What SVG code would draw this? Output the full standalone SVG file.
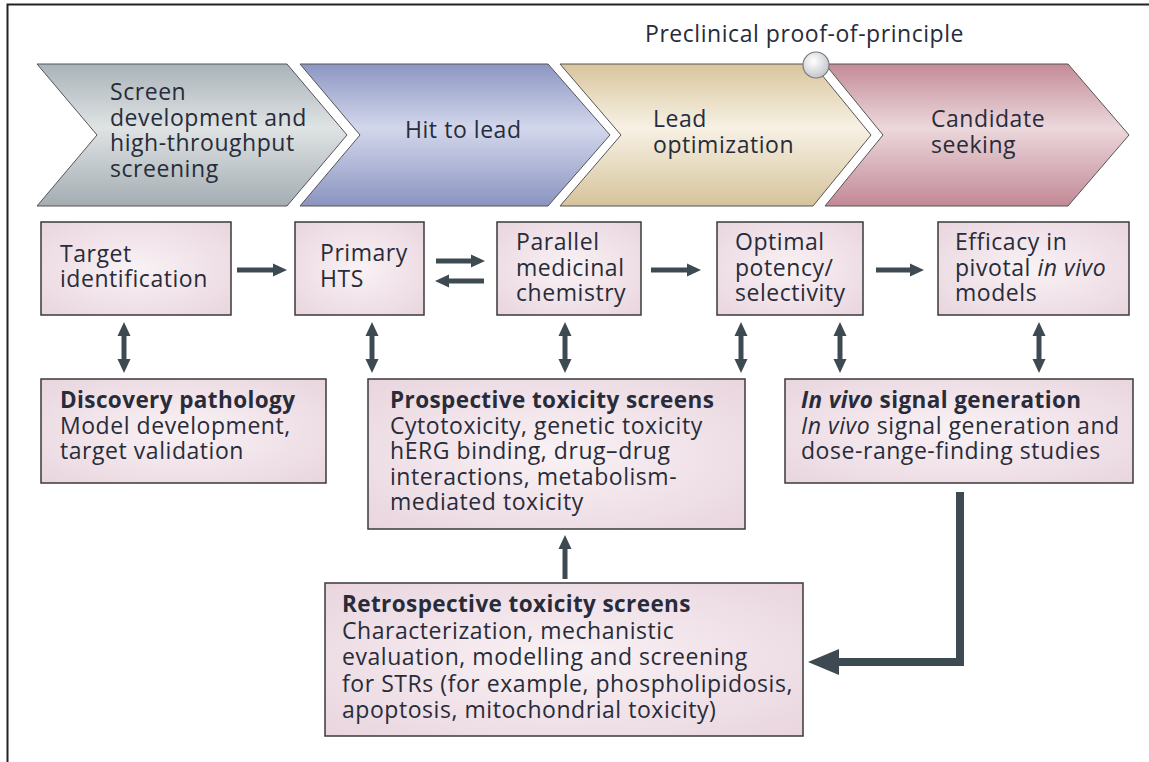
<svg xmlns="http://www.w3.org/2000/svg" width="1149" height="762" viewBox="0 0 1149 762">
<defs>
  <linearGradient id="g1" x1="0" y1="0" x2="0" y2="1">
    <stop offset="0" stop-color="#a9b3b9"/><stop offset="0.45" stop-color="#dfe3e4"/><stop offset="1" stop-color="#a3adb2"/>
  </linearGradient>
  <linearGradient id="g2" x1="0" y1="0" x2="0" y2="1">
    <stop offset="0" stop-color="#8c96c3"/><stop offset="0.45" stop-color="#d3d7ec"/><stop offset="1" stop-color="#8a94c0"/>
  </linearGradient>
  <linearGradient id="g3" x1="0" y1="0" x2="0" y2="1">
    <stop offset="0" stop-color="#d8c59d"/><stop offset="0.45" stop-color="#f7f1e4"/><stop offset="1" stop-color="#d6c39b"/>
  </linearGradient>
  <linearGradient id="g4" x1="0" y1="0" x2="0" y2="1">
    <stop offset="0" stop-color="#c38b97"/><stop offset="0.45" stop-color="#ecd8dc"/><stop offset="1" stop-color="#c28996"/>
  </linearGradient>
  <radialGradient id="boxg" cx="0.5" cy="0.5" r="0.7">
    <stop offset="0" stop-color="#f9f2f5"/><stop offset="1" stop-color="#e9d5de"/>
  </radialGradient>
  <radialGradient id="circg" cx="0.4" cy="0.35" r="0.7">
    <stop offset="0" stop-color="#ffffff"/><stop offset="1" stop-color="#bfc4c9"/>
  </radialGradient>
  <marker id="ah" viewBox="0 0 14 14" refX="3" refY="7" markerWidth="14" markerHeight="14" markerUnits="userSpaceOnUse" orient="auto-start-reverse">
    <path d="M0,0.5 L14,7 L0,13.5 z" fill="#3e4a52"/>
  </marker>
  <marker id="ahBig" viewBox="0 0 31 26" refX="1" refY="13" markerWidth="31" markerHeight="26" markerUnits="userSpaceOnUse" orient="auto">
    <path d="M0,0 L31,13 L0,26 z" fill="#3e4a52"/>
  </marker>
</defs>
<style>
  .t{font-family:"Open Sans","Noto Sans","DejaVu Sans",sans-serif;font-size:23px;letter-spacing:0.55px;fill:#282c3a}
  .b{font-weight:bold;font-size:22.5px;letter-spacing:0.4px}
  .i{font-style:italic}
  .box{fill:url(#boxg);stroke:#3a3a3a;stroke-width:1.5}
  .chev{stroke:#555;stroke-width:1}
  .ar{stroke:#3e4a52;stroke-width:5;fill:none}
</style>
<rect width="1149" height="762" fill="#ffffff"/>
<path d="M7.5,762 V4.5 H1149" fill="none" stroke="#222" stroke-width="2"/>

<g id="stage-screen">
  <polygon class="chev" points="37,64 287,64 347,135 287,206 37,206 97,135" fill="url(#g1)"/>
  <text class="t" x="110" y="100">Screen</text>
  <text class="t" x="110" y="125.7">development and</text>
  <text class="t" x="110" y="151.4">high-throughput</text>
  <text class="t" x="110" y="177">screening</text>
</g>
<g id="stage-hit">
  <polygon class="chev" points="300,64 548,64 610,135 548,206 300,206 360,135" fill="url(#g2)"/>
  <text class="t" x="405" y="138">Hit to lead</text>
</g>
<g id="stage-lead">
  <polygon class="chev" points="560,64 813,64 871,135 813,206 560,206 621,135" fill="url(#g3)"/>
  <text class="t" x="653" y="127">Lead</text>
  <text class="t" x="653" y="153">optimization</text>
</g>
<g id="stage-candidate">
  <polygon class="chev" points="825,64 1068,64 1129,135 1068,206 825,206 883,135" fill="url(#g4)"/>
  <text class="t" x="931" y="127">Candidate</text>
  <text class="t" x="931" y="153">seeking</text>
</g>
<g id="milestone">
  <circle cx="816" cy="65" r="13" fill="url(#circg)" stroke="#7a7a7a" stroke-width="1.2"/>
  <text class="t" x="645" y="42">Preclinical proof-of-principle</text>
</g>

<g id="target">
  <rect class="box" x="41" y="222" width="190" height="93"/>
  <text class="t" x="60" y="261.5">Target</text>
  <text class="t" x="60" y="287">identification</text>
</g>
<g id="primary">
  <rect class="box" x="295" y="222" width="129" height="93"/>
  <text class="t" x="320" y="261">Primary</text>
  <text class="t" x="320" y="286.5">HTS</text>
</g>
<g id="parallel">
  <rect class="box" x="497" y="222" width="144" height="93"/>
  <text class="t" x="516" y="250">Parallel</text>
  <text class="t" x="516" y="275.5">medicinal</text>
  <text class="t" x="516" y="301">chemistry</text>
</g>
<g id="optimal">
  <rect class="box" x="717" y="222" width="146" height="93"/>
  <text class="t" x="735" y="250">Optimal</text>
  <text class="t" x="735" y="275.5">potency/</text>
  <text class="t" x="735" y="301">selectivity</text>
</g>
<g id="efficacy">
  <rect class="box" x="938" y="222" width="191" height="93"/>
  <text class="t" x="955" y="250">Efficacy in</text>
  <text class="t" x="955" y="275.5">pivotal <tspan class="i">in vivo</tspan></text>
  <text class="t" x="955" y="301">models</text>
</g>
<g id="discovery">
  <rect class="box" x="41" y="379" width="285" height="104"/>
  <text class="t b" x="60" y="408">Discovery pathology</text>
  <text class="t" x="60" y="434">Model development,</text>
  <text class="t" x="60" y="459">target validation</text>
</g>
<g id="prospective">
  <rect class="box" x="368" y="379" width="377" height="150"/>
  <text class="t b" x="390" y="408">Prospective toxicity screens</text>
  <text class="t" x="390" y="433.5">Cytotoxicity, genetic toxicity</text>
  <text class="t" x="390" y="459">hERG binding, drug–drug</text>
  <text class="t" x="390" y="484.5">interactions, metabolism-</text>
  <text class="t" x="390" y="510">mediated toxicity</text>
</g>
<g id="invivo">
  <rect class="box" x="785" y="379" width="348" height="104"/>
  <text class="t b" x="801" y="408"><tspan class="i">In vivo</tspan> signal generation</text>
  <text class="t" x="801" y="434"><tspan class="i">In vivo</tspan> signal generation and</text>
  <text class="t" x="801" y="459">dose-range-finding studies</text>
</g>
<g id="retrospective">
  <rect class="box" x="325" y="583" width="478" height="153"/>
  <text class="t b" x="342" y="612">Retrospective toxicity screens</text>
  <text class="t" x="342" y="638.5">Characterization, mechanistic</text>
  <text class="t" x="342" y="665">evaluation, modelling and screening</text>
  <text class="t" x="342" y="691.5">for STRs (for example, phospholipidosis,</text>
  <text class="t" x="342" y="718">apoptosis, mitochondrial toxicity)</text>
</g>

<g id="connectors">
  <line class="ar" x1="237" y1="270" x2="276" y2="270" marker-end="url(#ah)"/>
  <line class="ar" x1="436" y1="261" x2="474" y2="261" marker-end="url(#ah)"/>
  <line class="ar" x1="484" y1="281" x2="446" y2="281" marker-end="url(#ah)"/>
  <line class="ar" x1="651" y1="270" x2="690" y2="270" marker-end="url(#ah)"/>
  <line class="ar" x1="876" y1="270" x2="913" y2="270" marker-end="url(#ah)"/>
  <line class="ar" x1="124" y1="333" x2="124" y2="362" marker-start="url(#ah)" marker-end="url(#ah)"/>
  <line class="ar" x1="372" y1="333" x2="372" y2="362" marker-start="url(#ah)" marker-end="url(#ah)"/>
  <line class="ar" x1="565" y1="333" x2="565" y2="362" marker-start="url(#ah)" marker-end="url(#ah)"/>
  <line class="ar" x1="741" y1="333" x2="741" y2="362" marker-start="url(#ah)" marker-end="url(#ah)"/>
  <line class="ar" x1="840" y1="333" x2="840" y2="362" marker-start="url(#ah)" marker-end="url(#ah)"/>
  <line class="ar" x1="1039" y1="333" x2="1039" y2="362" marker-start="url(#ah)" marker-end="url(#ah)"/>
  <line class="ar" x1="565" y1="579" x2="565" y2="546" marker-end="url(#ah)"/>
  <path d="M960,492 V662 H838" fill="none" stroke="#3e4a52" stroke-width="8" stroke-linejoin="miter" marker-end="url(#ahBig)"/>
</g>
</svg>
